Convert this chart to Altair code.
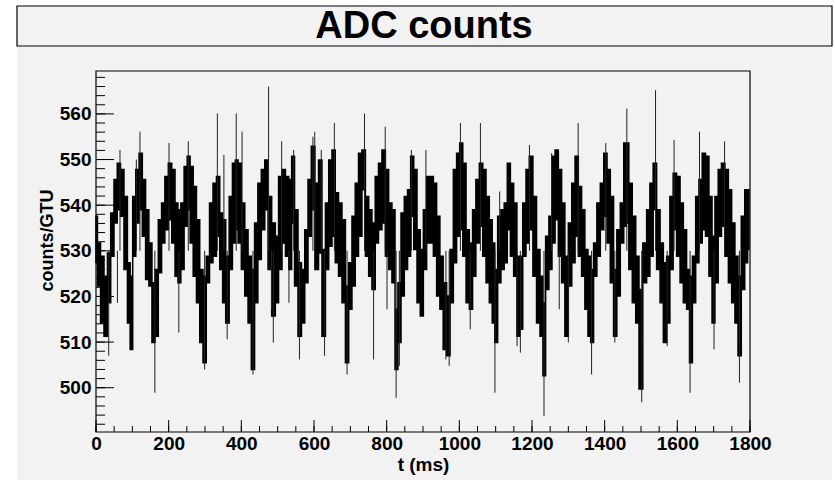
import altair as alt
import pandas as pd

# ---- data (envelope of the dense ADC trace) ----
t_ms = [0, 8, 17, 27, 36, 45, 54, 63, 72, 82, 91, 97, 105, 114, 123, 132, 141, 150, 158, 167,
        176, 185, 194, 204, 213, 222, 229, 238, 247, 255, 263, 272, 281, 290, 299,
        308, 317, 327, 336, 345, 352, 362, 371, 380, 387, 395, 405, 414, 423, 432, 441, 450, 460, 469, 478,
        489, 498, 507, 517, 526, 535, 542, 551, 561, 570, 579, 588, 597,
        608, 617, 627, 636, 645, 654, 663, 672, 682, 691, 700, 709, 718, 727, 737, 746, 755, 764, 773, 782,
        792, 801, 810, 819, 827, 835, 844, 853, 862, 870, 879, 888, 897,
        905, 915, 924, 933, 942, 951, 960, 970, 979, 988, 997, 1005, 1014, 1023, 1032, 1041, 1050, 1060, 1069, 1078,
        1087, 1094, 1101, 1110, 1119, 1128, 1136, 1145, 1154, 1163, 1170, 1179, 1188, 1197,
        1208, 1217, 1227, 1233, 1242, 1251, 1259, 1268, 1277, 1286, 1295, 1305, 1314, 1323, 1332, 1341, 1350, 1358, 1365, 1374,
        1383, 1393, 1402, 1411, 1420, 1429, 1438, 1448, 1457, 1462, 1471, 1481, 1490, 1499,
        1511, 1520, 1529, 1538, 1548, 1557, 1566, 1575, 1584, 1593, 1603, 1612, 1621, 1630, 1637, 1646, 1655, 1664, 1673, 1682,
        1692, 1699, 1708, 1717, 1726, 1736, 1745, 1754, 1763, 1771, 1781, 1790, 1797]

counts_hi = [537.6, 531.7, 528.8, 524.4, 529.5, 538.3, 545.6, 549.2, 547.8, 541.9, 527.4, 524.4, 541.9, 547.8, 551.4, 545.6, 539.0, 531.7, 523.0, 525.9,
             536.8, 540.5, 546.3, 549.2, 547.8, 540.5, 539.0, 540.5, 548.5, 550.7, 548.5, 544.1, 536.8, 525.9, 524.4,
             528.8, 540.5, 544.8, 546.3, 538.3, 536.8, 528.8, 541.9, 549.2, 549.9, 549.2, 540.5, 534.6, 528.8, 525.9, 536.1, 544.8, 547.8, 549.9, 541.9,
             536.1, 533.2, 546.3, 547.8, 546.3, 545.6, 550.7, 539.0, 527.4, 525.9, 534.6, 545.6, 552.9,
             544.8, 549.9, 530.3, 540.5, 549.9, 552.1, 542.7, 540.5, 536.8, 522.3, 527.4, 537.6, 544.8, 551.4, 552.1, 541.9, 539.0, 536.1, 546.3, 549.2,
             552.1, 547.8, 540.5, 539.0, 517.2, 523.0, 538.3, 541.9, 543.4, 550.7, 547.8, 534.6, 530.3,
             539.0, 546.3, 546.3, 544.8, 537.6, 528.8, 523.0, 520.1, 530.3, 547.8, 551.4, 553.6, 549.2, 534.6, 531.7, 539.0, 545.6, 549.2, 547.8, 541.9,
             536.8, 531.7, 525.9, 537.6, 539.0, 540.5, 549.2, 544.8, 540.5, 528.8, 528.8, 540.5, 547.8, 550.7,
             541.9, 530.3, 524.4, 518.6, 533.2, 537.6, 550.7, 552.1, 547.8, 540.5, 528.8, 536.1, 544.8, 550.7, 544.1, 539.0, 530.3, 528.8, 525.9, 531.7,
             540.5, 544.8, 551.4, 547.8, 541.9, 525.9, 534.6, 540.5, 553.6, 553.6, 544.8, 537.6, 528.8, 521.5,
             531.7, 539.0, 544.8, 549.2, 539.0, 531.7, 527.4, 528.8, 541.9, 547.0, 546.3, 540.5, 534.6, 525.9, 524.4, 528.8, 541.9, 545.6, 551.4, 550.7,
             541.9, 533.2, 541.9, 547.8, 549.2, 547.8, 543.4, 536.1, 528.8, 524.4, 537.6, 543.4, 543.4]

counts_lo = [527.4, 522.3, 514.2, 511.3, 518.6, 528.8, 536.1, 539.0, 537.6, 525.9, 514.2, 508.4, 528.8, 536.1, 539.0, 533.2, 523.7, 522.3, 509.9, 511.3,
             525.2, 531.7, 534.6, 536.8, 531.7, 524.4, 523.0, 525.9, 535.4, 539.0, 531.7, 524.4, 518.6, 509.9, 505.5,
             523.0, 527.4, 528.8, 533.2, 525.9, 518.6, 514.2, 525.9, 531.7, 534.6, 531.7, 525.9, 520.1, 514.2, 504.0, 518.6, 528.1, 534.6, 539.0, 525.9,
             515.7, 518.6, 525.9, 531.7, 528.8, 525.9, 536.1, 522.3, 511.3, 514.2, 523.0, 533.2, 539.0,
             525.9, 529.5, 511.3, 525.9, 531.0, 533.2, 527.4, 524.4, 518.6, 505.5, 517.2, 522.3, 528.8, 533.2, 543.4, 528.8, 524.4, 521.5, 531.7, 534.6,
             536.1, 528.8, 525.9, 523.0, 504.0, 509.9, 520.1, 525.9, 528.8, 537.6, 530.3, 518.6, 515.7,
             525.9, 531.7, 531.7, 528.8, 520.1, 517.2, 508.4, 507.0, 518.6, 527.4, 533.2, 534.6, 528.8, 518.6, 517.2, 524.4, 531.7, 535.4, 528.8, 523.0,
             518.6, 514.2, 509.9, 523.0, 525.9, 527.4, 534.6, 528.8, 524.4, 511.3, 512.8, 528.8, 531.7, 534.6,
             524.4, 514.2, 511.3, 502.6, 521.5, 525.9, 531.7, 536.8, 528.8, 523.0, 511.3, 522.3, 527.4, 533.2, 528.8, 524.4, 517.2, 511.3, 509.9, 524.4,
             528.8, 534.6, 537.6, 531.7, 523.0, 511.3, 520.1, 531.7, 535.4, 536.1, 525.9, 518.6, 514.2, 499.7,
             523.0, 524.4, 528.8, 539.0, 525.9, 518.6, 509.9, 514.2, 525.9, 534.6, 528.8, 523.0, 518.6, 517.2, 505.5, 518.6, 527.4, 531.7, 534.6, 533.2,
             524.4, 514.2, 523.0, 533.2, 535.4, 528.8, 523.0, 518.6, 514.2, 507.0, 521.5, 527.4, 530.3]

# isolated single-bin spikes
spike_t = [35, 59, 66, 111, 121, 162, 201, 228, 254, 299,
           334, 352, 361, 386, 402, 432, 475, 483, 488, 511, 531, 544, 560, 597,
           602, 620, 629, 656, 691, 739, 764, 796, 801, 826, 835, 868,
           908, 963, 972, 1003, 1030, 1058, 1098, 1111, 1159, 1168, 1193,
           1233, 1254, 1275, 1300, 1327, 1364, 1403, 1428, 1461,
           1502, 1540, 1572, 1591, 1635, 1661, 1701, 1730, 1771]
spike_v = [507.0, 518.6, 552.1, 550.0, 556.1, 498.9, 553.6, 512.1, 554.0, 504.0,
           560.1, 551.0, 510.6, 560.1, 556.1, 502.9, 566.0, 517.2, 509.9, 554.0, 518.6, 552.1, 506.2, 555.0,
           556.1, 552.1, 507.0, 558.0, 502.9, 560.1, 506.2, 557.2, 517.2, 497.8, 504.8, 552.1,
           552.1, 506.2, 504.8, 558.0, 512.8, 558.0, 498.9, 543.0, 509.1, 507.7, 553.2,
           493.8, 551.4, 517.2, 509.9, 558.0, 502.9, 553.6, 509.9, 561.2,
           496.8, 565.2, 509.1, 554.3, 498.9, 556.1, 508.4, 554.0, 501.1]

y_major = [500, 510, 520, 530, 540, 550, 560]
y_minor = list(range(492, 569, 2))
x_major = [0, 200, 400, 600, 800, 1000, 1200, 1400, 1600, 1800]
x_minor = list(range(0, 1801, 50))

X_DOMAIN = [0, 1800]
Y_DOMAIN = [490.3, 569.4]
FONT = "Liberation Sans"
W, H = 654, 361

xs = alt.Scale(domain=X_DOMAIN, nice=False, zero=False)
ys = alt.Scale(domain=Y_DOMAIN, nice=False, zero=False)

band_df = pd.DataFrame({"t": t_ms, "hi": counts_hi, "lo": counts_lo})
spike_df = pd.DataFrame({"t": spike_t, "v": spike_v})
one = pd.DataFrame({"a": [0]})

x_axis = alt.Axis(
    values=x_major, format="d", ticks=False, domain=False, grid=False, title="t (ms)", zindex=2,
    labelFont=FONT, labelFontSize=19, labelFontWeight="bold", labelColor="black", labelPadding=2,
    titleFont=FONT, titleFontSize=19, titleFontWeight="bold", titleColor="black",
    titleY=38, titleBaseline="alphabetic", labelFlush=False)
y_axis = alt.Axis(
    values=y_major, format="d", ticks=False, domain=False, grid=False, title="counts/GTU", zindex=2,
    labelFont=FONT, labelFontSize=19, labelFontWeight="bold", labelColor="black", labelPadding=5,
    titleFont=FONT, titleFontSize=18, titleFontWeight="bold", titleColor="black",
    titleX=-49, titleY=169, titleAngle=-90, titleAlign="center", titleBaseline="middle")

bg = alt.Chart(one).mark_rect(fill="#f2f2f2").encode(
    x=alt.value(-79), x2=alt.value(736), y=alt.value(-25), y2=alt.value(409))
title_box = alt.Chart(one).mark_rect(fill="#f2f2f2", stroke="black", strokeWidth=1.2).encode(
    x=alt.value(-79), x2=alt.value(736), y=alt.value(-65), y2=alt.value(-25))
title_txt = alt.Chart(one).mark_text(text="ADC counts", font=FONT, fontSize=38, fontWeight="bold",
                                     align="center", baseline="alphabetic", color="black").encode(
    x=alt.value(328), y=alt.value(-33))

band = alt.Chart(band_df).mark_area(color="black", interpolate="step", opacity=1,
                                    stroke="black", strokeWidth=1.5).encode(
    x=alt.X("t:Q", scale=xs, axis=x_axis),
    y=alt.Y("lo:Q", scale=ys, axis=y_axis),
    y2="hi:Q")

spikes = alt.Chart(spike_df).mark_rule(color="#222222", strokeWidth=1).encode(
    x=alt.X("t:Q", scale=xs, axis=x_axis),
    y=alt.Y("v:Q", scale=ys, axis=y_axis),
    y2=alt.datum(530))

ymaj = alt.Chart(pd.DataFrame({"v": y_major})).mark_rule(color="black", strokeWidth=1).encode(
    y=alt.Y("v:Q", scale=ys, axis=y_axis), x=alt.value(0), x2=alt.value(18))
ymin = alt.Chart(pd.DataFrame({"v": y_minor})).mark_rule(color="black", strokeWidth=1).encode(
    y=alt.Y("v:Q", scale=ys, axis=y_axis), x=alt.value(0), x2=alt.value(9))
xmaj = alt.Chart(pd.DataFrame({"v": x_major})).mark_rule(color="black", strokeWidth=1).encode(
    x=alt.X("v:Q", scale=xs, axis=x_axis), y=alt.value(H), y2=alt.value(H - 12))
xmin = alt.Chart(pd.DataFrame({"v": x_minor})).mark_rule(color="black", strokeWidth=1).encode(
    x=alt.X("v:Q", scale=xs, axis=x_axis), y=alt.value(H), y2=alt.value(H - 6))

frame = alt.Chart(one).mark_rect(fill=None, stroke="black", strokeWidth=1.2).encode(
    x=alt.value(0), x2=alt.value(W), y=alt.value(0), y2=alt.value(H))

chart = alt.layer(bg, title_box, title_txt, band, spikes, ymin, ymaj, xmin, xmaj, frame).properties(
    width=W, height=H,
    autosize=alt.AutoSizeParams(type="none"),
    padding={"left": 96, "top": 71, "right": 85, "bottom": 48},
    background="white",
).configure_view(stroke=None, fill="#f2f2f2")

chart.save("out.html", embed_options={"renderer": "svg", "actions": False})
